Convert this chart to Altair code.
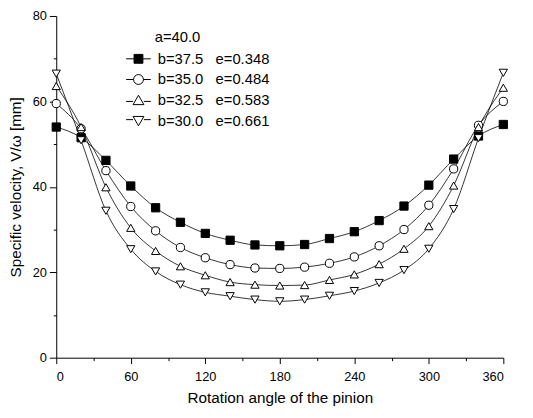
import altair as alt
import pandas as pd

angles = [0, 20, 40, 60, 80, 100, 120, 140, 160, 180, 200, 220, 240, 260, 280, 300, 320, 340, 360]
series_names = ["b=37.5\u00a0\u00a0\u00a0e=0.348", "b=35.0\u00a0\u00a0\u00a0e=0.484",
                "b=32.5\u00a0\u00a0\u00a0e=0.583", "b=30.0\u00a0\u00a0\u00a0e=0.661"]
legend_header = ["a=40.0"]
s_b375 = [54.0, 51.5, 46.2, 40.2, 35.1, 31.7, 29.1, 27.5, 26.4, 26.2, 26.5, 27.9, 29.5, 32.1, 35.5, 40.4, 46.5, 51.9, 54.6]
s_b350 = [59.5, 53.6, 43.8, 35.4, 29.7, 25.8, 23.4, 21.8, 21.0, 20.9, 21.2, 22.1, 23.6, 26.2, 30.0, 35.7, 44.2, 54.4, 60.0]
s_b325 = [63.6, 54.0, 39.9, 30.4, 25.0, 21.4, 19.3, 17.7, 17.1, 16.9, 17.0, 18.2, 19.5, 21.9, 25.5, 30.8, 40.3, 54.0, 63.2]
s_b300 = [66.5, 50.9, 34.4, 25.4, 20.2, 17.1, 15.3, 14.4, 13.6, 13.2, 13.6, 14.5, 15.6, 17.5, 20.5, 25.5, 34.8, 51.4, 66.7]

rows = []
for name, vals in zip(series_names, [s_b375, s_b350, s_b325, s_b300]):
    for a, v in zip(angles, vals):
        rows.append({"angle": a, "value": v, "series": name})
df = pd.DataFrame(rows)

FONT = "Liberation Sans"

xenc = alt.X("angle:Q",
             scale=alt.Scale(domain=[0, 360], nice=False, zero=False),
             axis=alt.Axis(values=list(range(0, 361, 30)),
                           labelExpr="datum.value % 60 === 0 ? datum.label : ''",
                           tickSize={"condition": {"test": "datum.value % 60 === 0", "value": 6}, "value": 3},
                           labelPadding=7,
                           title="Rotation angle of the pinion",
                           titleFontSize=15.5,
                           titlePadding=8))
yenc = alt.Y("value:Q",
             scale=alt.Scale(domain=[0, 80], nice=False),
             axis=alt.Axis(values=list(range(0, 81, 10)),
                           labelExpr="datum.value % 20 === 0 ? datum.label : ''",
                           tickSize={"condition": {"test": "datum.value % 20 === 0", "value": 7}, "value": 3},
                           labelPadding=3,
                           title="Specific velocity, V/\u03c9 [mm]",
                           titleFontSize=15.5,
                           titlePadding=9))

shape_plain = ["square", "circle", "triangle-up", "triangle-down"]
fill_range = ["black", "white", "white", "white"]
shape_legend = [
    "M-2.5,0H-0.9M0.9,0H2.5M-0.9,-0.9H0.9V0.9H-0.9Z",
    "M-2.5,0H-1M1,0H2.5M1,0A1,1 0 1,1 -1,0A1,1 0 1,1 1,0Z",
    "M-2.5,0.25H-1.1M1.1,0.25H2.5M0,-1L1.1,0.9L-1.1,0.9Z",
    "M-2.5,-0.25H-1.1M1.1,-0.25H2.5M0,1L1.1,-0.9L-1.1,-0.9Z",
]

lines = alt.Chart(df).mark_line(interpolate="monotone", color="black", strokeWidth=0.8).encode(
    x=xenc, y=yenc, detail="series:N")

points = alt.Chart(df).mark_point(filled=True, stroke="black", strokeWidth=1, size=70, opacity=1).encode(
    x=xenc, y=yenc,
    shape=alt.Shape("series:N", sort=series_names,
                    scale=alt.Scale(domain=series_names, range=shape_plain), legend=None),
    fill=alt.Fill("series:N", sort=series_names,
                  scale=alt.Scale(domain=series_names, range=fill_range), legend=None))

leg = alt.Legend(orient="none", legendX=76, legendY=36, title=None,
                 labelFont=FONT, labelFontSize=15, labelColor="black",
                 labelOffset=12, symbolSize=100, rowPadding=5, padding=0,
                 symbolStrokeWidth=1)

legend_layer = alt.Chart(df).transform_calculate(value="-100").mark_point(
    filled=True, stroke="black", strokeWidth=1, size=100, opacity=1, clip=True).encode(
    x=xenc, y=yenc,
    shape=alt.Shape("series:N", sort=series_names,
                    scale=alt.Scale(domain=series_names, range=shape_legend), legend=leg),
    fill=alt.Fill("series:N", sort=series_names,
                  scale=alt.Scale(domain=series_names, range=fill_range), legend=leg))

header = alt.Chart(pd.DataFrame({"t": legend_header})).mark_text(
    align="left", baseline="middle", font=FONT, fontSize=15, color="black").encode(
    x=alt.value(100), y=alt.value(21), text="t:N")

chart = alt.layer(lines, points, legend_layer, header).resolve_scale(
    shape="independent", fill="independent"
).properties(
    width=454, height=347,
    autosize=alt.AutoSizeParams(type="none"),
    padding={"left": 49, "top": 5, "right": 22, "bottom": 50},
).configure_view(stroke=None).configure_axis(
    grid=False, domainColor="black", tickColor="black", labelColor="black", titleColor="black",
    labelFont=FONT, titleFont=FONT, labelFontSize=13, titleFontSize=16, titleFontWeight="normal",
    domainWidth=1, tickWidth=1
)

chart.save("out.html", embed_options={"renderer": "svg", "actions": False})
